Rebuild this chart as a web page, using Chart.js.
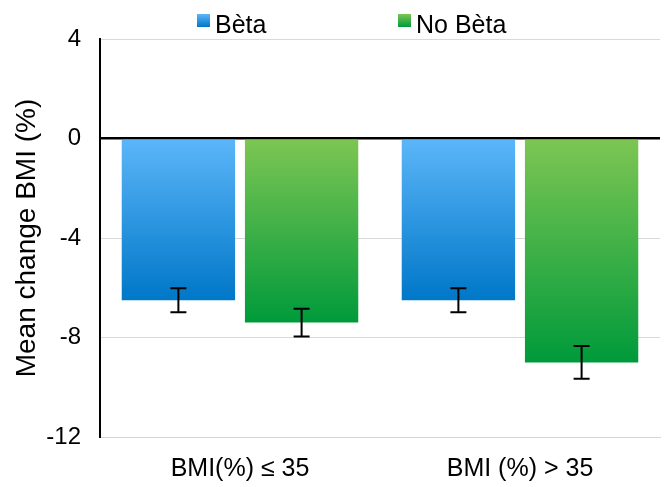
<!DOCTYPE html>
<html>
<head>
<meta charset="utf-8">
<script src="https://cdn.jsdelivr.net/npm/chart.js@4.4.0/dist/chart.umd.min.js"></script>
<style>
  html, body { margin: 0; padding: 0; background: #fff; }
  #wrap { width: 665px; height: 487px; }
</style>
</head>
<body>
<div id="wrap"><canvas id="c" width="665" height="487"></canvas></div>
<script>
const categories = ['BMI(%) \u2264 35', 'BMI (%) > 35'];
const seriesNames = ['B\u00e8ta', 'No B\u00e8ta'];
const betaValues = [-6.5, -6.5];
const betaErrors = [0.48, 0.48];
const noBetaValues = [-7.4, -9.0];
const noBetaErrors = [0.56, 0.66];
const yTicks = [4, 0, -4, -8, -12];

const FONT = "'Liberation Sans', Arial, Helvetica, sans-serif";
const gradColors = [
  ['#5cb6f9', '#0077c8'],
  ['#7dc653', '#009a3b']
];

function barGradient(idx) {
  return function (ctx) {
    const chart = ctx.chart;
    const fallback = gradColors[idx][1];
    if (!chart.chartArea || ctx.type !== 'data' || !ctx.parsed) return fallback;
    const ys = chart.scales.y;
    const y0 = ys.getPixelForValue(0);
    const y1 = ys.getPixelForValue(ctx.parsed.y);
    if (!isFinite(y0) || !isFinite(y1) || y0 === y1) return fallback;
    const g = chart.ctx.createLinearGradient(0, y0, 0, y1);
    g.addColorStop(0, gradColors[idx][0]);
    g.addColorStop(1, gradColors[idx][1]);
    return g;
  };
}

const errorBars = {
  id: 'errorBars',
  afterDatasetsDraw(chart) {
    const ctx = chart.ctx;
    const ys = chart.scales.y;
    ctx.save();
    ctx.strokeStyle = '#000';
    ctx.lineWidth = 2;
    chart.data.datasets.forEach((ds, di) => {
      const meta = chart.getDatasetMeta(di);
      meta.data.forEach((el, i) => {
        const v = ds.data[i], e = ds.errors[i];
        const top = ys.getPixelForValue(v + e);
        const bot = ys.getPixelForValue(v - e);
        const x = el.x, hw = 8;
        ctx.beginPath();
        ctx.moveTo(x, top); ctx.lineTo(x, bot);
        ctx.moveTo(x - hw, top); ctx.lineTo(x + hw, top);
        ctx.moveTo(x - hw, bot); ctx.lineTo(x + hw, bot);
        ctx.stroke();
      });
    });
    ctx.restore();
  }
};

const topLegend = {
  id: 'topLegend',
  afterDraw(chart) {
    const ctx = chart.ctx;
    const left = chart.chartArea.left;
    const offsets = [97, 298];
    ctx.save();
    ctx.font = '25px ' + FONT;
    ctx.textBaseline = 'alphabetic';
    chart.data.datasets.forEach((ds, i) => {
      const x = left + offsets[i];
      const y = 14;
      const g = ctx.createLinearGradient(0, y, 0, y + 13);
      g.addColorStop(0, gradColors[i][0]);
      g.addColorStop(1, gradColors[i][1]);
      ctx.fillStyle = g;
      ctx.fillRect(x, y, 13, 13);
      ctx.fillStyle = '#000';
      ctx.fillText(ds.label, x + 18, 33);
    });
    ctx.restore();
  }
};

new Chart(document.getElementById('c'), {
  type: 'bar',
  data: {
    labels: categories,
    datasets: [
      { label: seriesNames[0], data: betaValues, errors: betaErrors, backgroundColor: barGradient(0),
        categoryPercentage: 0.88, barPercentage: 0.92 },
      { label: seriesNames[1], data: noBetaValues, errors: noBetaErrors, backgroundColor: barGradient(1),
        categoryPercentage: 0.88, barPercentage: 0.92 }
    ]
  },
  options: {
    responsive: false,
    animation: false,
    devicePixelRatio: 1,
    layout: { padding: { top: 39, right: 5, left: 0, bottom: 0 } },
    plugins: {
      legend: { display: false },
      tooltip: { enabled: false }
    },
    scales: {
      x: {
        grid: { display: false, drawTicks: false },
        border: { display: true, color: '#d4d4d4', width: 1 },
        ticks: { font: { family: FONT, size: 25 }, color: '#000', padding: 17 },
        afterFit(scale) { scale.height = 50; }
      },
      y: {
        min: -12, max: 4,
        afterBuildTicks(scale) { scale.ticks = yTicks.map(v => ({ value: v })); },
        grid: {
          drawTicks: false,
          color: (c) => (c.tick && c.tick.value === 0 ? '#000' : '#d9d9d9'),
          lineWidth: (c) => (c.tick && c.tick.value === 0 ? 2.5 : 1)
        },
        border: { display: true, color: '#000', width: 2 },
        ticks: { font: { family: FONT, size: 24 }, color: '#000', padding: 19 },
        title: { display: true, text: 'Mean change BMI (%)', font: { family: FONT, size: 28 }, color: '#000', padding: { top: 10, bottom: 0 } },
        afterFit(scale) { scale.width = 100; }
      }
    }
  },
  plugins: [errorBars, topLegend]
});
</script>
</body>
</html>
